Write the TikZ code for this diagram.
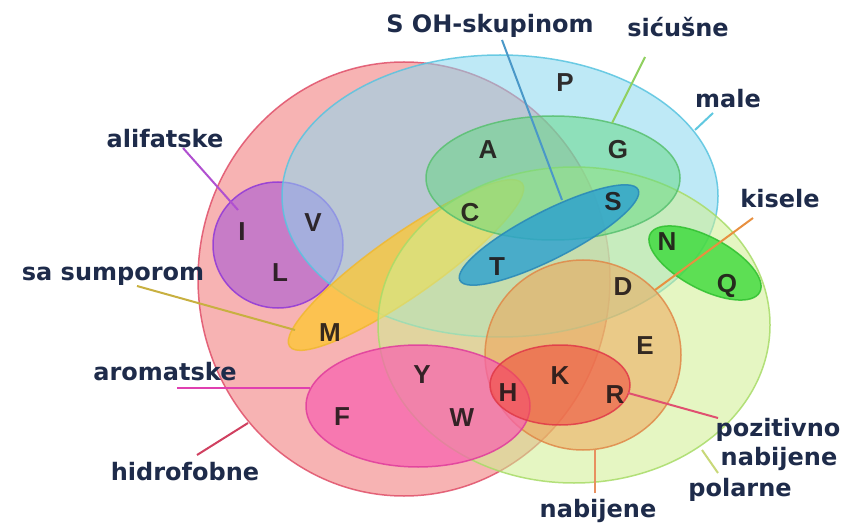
\documentclass[tikz,border=0pt]{standalone}
\usepackage{fontspec}
\usetikzlibrary{shapes.geometric,calc}
\newfontfamily\lblfont{DejaVu Sans}
\newfontfamily\letfont{Liberation Sans}
\definecolor{navy}{HTML}{1E2B4A}
\definecolor{lettc}{HTML}{201818}
\definecolor{hidF}{HTML}{F59A9A}\definecolor{hidD}{HTML}{E0506A}
\definecolor{maleF}{HTML}{8AD8F0}\definecolor{maleD}{HTML}{58C4E0}
\definecolor{polF}{HTML}{D0F090}\definecolor{polD}{HTML}{A8DC68}
\definecolor{sicF}{HTML}{60D880}\definecolor{sicD}{HTML}{58C070}
\definecolor{nabF}{HTML}{F0A050}\definecolor{nabD}{HTML}{E08848}
\definecolor{sumF}{HTML}{FFC830}\definecolor{sumD}{HTML}{F0B830}
\definecolor{alifF}{HTML}{A050D8}\definecolor{alifD}{HTML}{9038D8}
\definecolor{aromF}{HTML}{F860B0}\definecolor{aromD}{HTML}{E03C9C}
\definecolor{pozF}{HTML}{F05040}\definecolor{pozD}{HTML}{E03848}
\definecolor{kisF}{HTML}{30D830}\definecolor{kisD}{HTML}{30C030}
\definecolor{ohF}{HTML}{2AA0D0}\definecolor{ohD}{HTML}{2888B8}
\definecolor{cOH}{HTML}{4A98C8}\definecolor{csic}{HTML}{90D060}
\definecolor{cmale}{HTML}{60C8E0}\definecolor{calif}{HTML}{B050D0}
\definecolor{ckis}{HTML}{E89040}\definecolor{csum}{HTML}{C8B040}
\definecolor{carom}{HTML}{E040B0}\definecolor{chid}{HTML}{D04060}
\definecolor{cnab}{HTML}{E89060}\definecolor{cpol}{HTML}{C8D878}
\definecolor{cpoz}{HTML}{E05070}
\begin{document}
\begin{tikzpicture}[x=1pt,y=-1pt,
  setshape/.style={ellipse, inner sep=0pt, outer sep=0pt, line width=1.5pt, draw opacity=0.85},
  lbl/.style={font=\lblfont\bfseries\fontsize{24}{28}\selectfont, text=navy, inner sep=0pt, anchor=base},
  letter/.style={font=\letfont\bfseries\fontsize{26}{31}\selectfont, text=lettc, text opacity=0.9, inner sep=0pt},
  conn/.style={line width=2pt}]
\useasboundingbox (0,0) rectangle (850,526);
\fill[white] (0,0) rectangle (850,526);

% sets
\node[setshape, minimum width=412pt, minimum height=434pt, fill=hidF, fill opacity=0.75, draw=hidD] (hid) at (404,279) {};
\node[setshape, minimum width=130pt, minimum height=126pt, fill=alifF, fill opacity=0.55, draw=alifD] (alif) at (278,245) {};
\node[setshape, minimum width=436pt, minimum height=282pt, fill=maleF, fill opacity=0.55, draw=maleD] (male) at (500,196) {};
\node[setshape, minimum width=284pt, minimum height=62pt, rotate=35, fill=sumF, fill opacity=0.75, draw=sumD] (sum) at (406,265) {};
\node[setshape, minimum width=392pt, minimum height=316pt, fill=polF, fill opacity=0.55, draw=polD] (pol) at (574,325) {};
\node[setshape, minimum width=254pt, minimum height=124pt, fill=sicF, fill opacity=0.5, draw=sicD] (sic) at (553,178) {};
\node[setshape, minimum width=196pt, minimum height=190pt, fill=nabF, fill opacity=0.5, draw=nabD] (nab) at (583,355) {};
\node[setshape, minimum width=224pt, minimum height=122pt, fill=aromF, fill opacity=0.7, draw=aromD] (arom) at (418,406) {};
\node[setshape, minimum width=140pt, minimum height=80pt, fill=pozF, fill opacity=0.6, draw=pozD] (poz) at (560,385) {};
\node[setshape, minimum width=124pt, minimum height=52pt, rotate=-28, fill=kisF, fill opacity=0.75, draw=kisD] (kis) at (705,263) {};
\node[setshape, minimum width=200pt, minimum height=48pt, rotate=27, fill=ohF, fill opacity=0.8, draw=ohD] (oh) at (549,235) {};

% letters
\node[letter] (P) at (565,83) {P};
\node[letter] (G) at (618,150) {G};
\node[letter] (A) at (488,150) {A};
\node[letter] (S) at (613,202) {S};
\node[letter] (N) at (667,242) {N};
\node[letter] (C) at (470,213) {C};
\node[letter] (T) at (497,267) {T};
\node[letter] (D) at (623,287) {D};
\node[letter] (Q) at (727,286) {Q};
\node[letter] (E) at (645,346) {E};
\node[letter] (K) at (560,376) {K};
\node[letter] (R) at (615,395) {R};
\node[letter] (H) at (508,393) {H};
\node[letter] (W) at (462,418) {W};
\node[letter] (Y) at (422,375) {Y};
\node[letter] (F) at (342,417) {F};
\node[letter] (M) at (330,333) {M};
\node[letter] (I) at (242,232) {I};
\node[letter] (V) at (313,223) {V};
\node[letter] (L) at (280,273) {L};

% labels
\node[lbl] (lOH) at (490,33) {S OH-skupinom};
\node[lbl] (lsic) at (678,37) {sićušne};
\node[lbl] (lmale) at (728,108) {male};
\node[lbl] (lalif) at (165,148) {alifatske};
\node[lbl] (lkis) at (780,208) {kisele};
\node[lbl] (lsum) at (113,280) {sa sumporom};
\node[lbl] (larom) at (165,380) {aromatske};
\node[lbl] (lhid) at (185,480) {hidrofobne};
\node[lbl] (lnab) at (598,517) {nabijene};
\node[lbl] (lpol) at (740,496) {polarne};
\node[lbl] (lpoz) at (778,436) {pozitivno};
\node[lbl] (lpoz2) at (779,465) {nabijene};

% connector end points
\coordinate (eOH) at (562,200);
\coordinate (esic) at (612,123);
\coordinate (emale) at (695,130);
\coordinate (ealif) at (238,210);
\coordinate (ekis) at (655,290);
\coordinate (esum) at (295,330);
\coordinate (earom) at (310,388);
\coordinate (ehid) at (248,423);
\coordinate (enab) at (595,450);
\coordinate (epol) at (702,450);
\coordinate (epoz) at (628,393);

% connectors
\draw[conn, cOH] ($(lOH.base)+(12,7)$) -- (eOH);
\draw[conn, csic] ($(lsic.base)+(-33,20)$) -- (esic);
\draw[conn, cmale] ($(lmale.base)+(-15,5)$) -- (emale);
\draw[conn, calif] ($(lalif.base)+(18,0)$) -- (ealif);
\draw[conn, ckis] ($(lkis.base)+(-27,10)$) -- (ekis);
\draw[conn, csum] ($(lsum.base)+(24,6)$) -- (esum);
\draw[conn, carom] ($(larom.base)+(12,8)$) -- (earom);
\draw[conn, chid] ($(lhid.base)+(12,-25)$) -- (ehid);
\draw[conn, cnab] ($(lnab.base)+(-3,-24)$) -- (enab);
\draw[conn, cpol] ($(lpol.base)+(-22,-23)$) -- (epol);
\draw[conn, cpoz] ($(lpoz.base)+(-60,-18)$) -- (epoz);
\end{tikzpicture}
\end{document}
